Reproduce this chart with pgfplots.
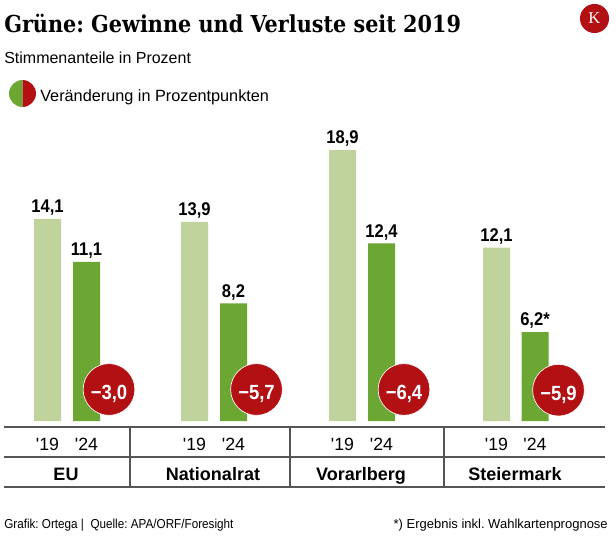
\documentclass[border=0pt]{standalone}
\usepackage{pgfplots}
\pgfplotsset{compat=1.18}
\usepackage{fontspec}
\setmainfont{Liberation Sans}
\newfontfamily\titlefont{DejaVu Serif}[FakeStretch=0.89]
\newfontfamily\kfont{Liberation Serif}
\newfontfamily\numfont{Liberation Sans}[FakeStretch=0.9]
\definecolor{lgreen}{HTML}{C1D39C}
\definecolor{dgreen}{HTML}{6CA633}
\definecolor{kred}{HTML}{B31014}
\definecolor{lgray}{HTML}{555555}
\frenchspacing
\begin{document}
\begin{tikzpicture}
\useasboundingbox (0,0) rectangle (462pt,402pt);
\begin{axis}[at={(0,0)}, anchor=south west,
  width=462pt, height=402pt, scale only axis,
  xmin=0, xmax=616, ymin=-8.0251, ymax=29.379, clip=false,
  axis line style={draw=none}, major tick length=0pt, ytick=\empty,
  xtick={47.5,86.5,194.5,233.5,342.5,381.5,496.5,535},
  xticklabels={\textquotesingle19,\textquotesingle24,\textquotesingle19,\textquotesingle24,\textquotesingle19,\textquotesingle24,\textquotesingle19,\textquotesingle24},
  xticklabel style={anchor=base, font=\fontsize{13.3}{16}\selectfont, inner sep=0pt},
  xticklabel shift=-64.5pt,
  extra x ticks={66,213,361,515},
  extra x tick labels={EU,Nationalrat,Vorarlberg,Steiermark},
  extra x tick style={xticklabel shift=-42pt, xticklabel style={font=\bfseries\fontsize{13.5}{16}\selectfont}},
]
\addplot[ybar, bar width=27, bar shift=0pt, fill=lgreen, draw=none,
  point meta=explicit symbolic, nodes near coords,
  every node near coord/.append style={font=\numfont\bfseries\fontsize{13.8}{16}\selectfont, anchor=base, yshift=4.7pt, inner sep=0pt, text=black}]
  coordinates {(47.5,14.1) [14,1] (194.5,13.9) [13,9] (342.5,18.9) [18,9] (496.5,12.1) [12,1]};
\addplot[ybar, bar width=27, bar shift=0pt, fill=dgreen, draw=none,
  point meta=explicit symbolic, nodes near coords,
  every node near coord/.append style={font=\numfont\bfseries\fontsize{13.8}{16}\selectfont, anchor=base, yshift=4.7pt, inner sep=0pt, text=black}]
  coordinates {(86.5,11.1) [11,1] (233.5,8.2) [8,2] (381.5,12.4) [12,4] (535,6.2) [6,2*]};
\addplot[only marks, mark=*, mark size=19.4pt, mark options={fill=kred, draw=white, line width=0.5pt},
  point meta=explicit symbolic, nodes near coords,
  every node near coord/.append style={font=\numfont\bfseries\fontsize{15.4}{18}\selectfont, anchor=base, yshift=-7.5pt, inner sep=0pt, text=white}]
  coordinates {(109,2.2) [−3,0] (256.5,2.2) [−5,7] (404,2.2) [−6,4] (558.5,2.15) [−5,9]};
\end{axis}
\begin{scope}[shift={(0pt,402pt)}, x=0.75pt, y=-0.75pt]
  \node[anchor=base west, inner sep=0pt, font=\titlefont\bfseries\fontsize{17.5}{22}\selectfont] at (4,33) {Grüne: Gewinne und Verluste seit 2019};
  \node[anchor=base west, inner sep=0pt, font=\fontsize{12}{14}\selectfont] at (4,64) {Stimmenanteile in Prozent};
  \begin{scope}
    \clip (5,75) rectangle (22.5,112);
    \fill[dgreen] (22.5,93.5) circle[radius=10.1pt];
  \end{scope}
  \begin{scope}
    \clip (22.5,75) rectangle (40,112);
    \fill[kred] (22.5,93.5) circle[radius=10.1pt];
  \end{scope}
  \node[anchor=base west, inner sep=0pt, font=\fontsize{12.2}{14}\selectfont] at (40,102) {Veränderung in Prozentpunkten};
  \fill[kred] (594.5,18.5) circle[radius=10.9pt];
  \node[inner sep=0pt, text=white, font=\kfont\fontsize{12.5}{14}\selectfont] at (594.5,18.5) {K};
  \draw[lgray, line width=0.8pt] (4,427) -- (605,427);
  \draw[lgray, line width=0.8pt] (4,457) -- (605,457);
  \draw[lgray, line width=0.8pt] (4,487) -- (605,487);
  \draw[lgray, line width=0.8pt] (130,427) -- (130,487);
  \draw[lgray, line width=0.8pt] (290,427) -- (290,487);
  \draw[lgray, line width=0.8pt] (444,427) -- (444,487);
  \node[anchor=base west, inner sep=0pt, font=\numfont\fontsize{9.75}{12}\selectfont] at (4,528) {Grafik: Ortega |\ \ Quelle: APA/ORF/Foresight};
  \node[anchor=base east, inner sep=0pt, font=\fontsize{9.75}{12}\selectfont] at (608,528) {*) Ergebnis inkl. Wahlkartenprognose};
\end{scope}
\end{tikzpicture}
\end{document}
